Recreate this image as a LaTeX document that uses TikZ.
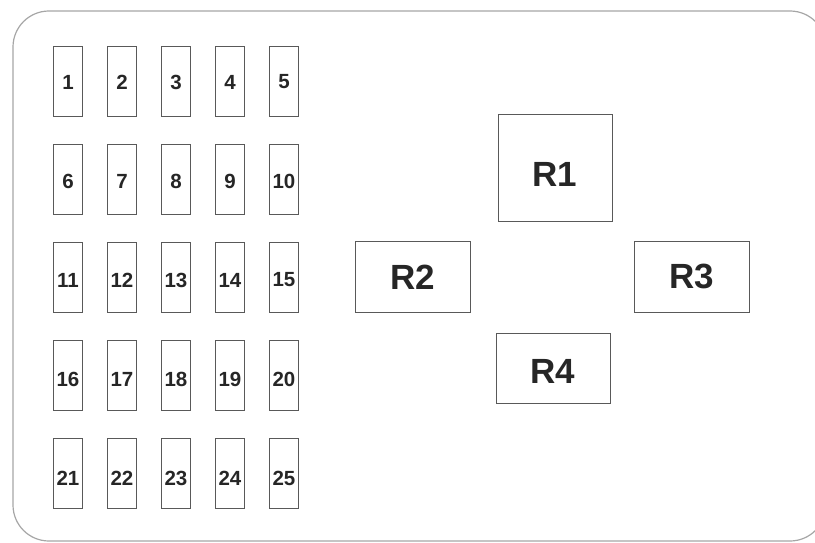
\documentclass[tikz,border=0pt]{standalone}
\usepackage{fontspec}
\setmainfont{Liberation Sans}
\begin{document}
\begin{tikzpicture}[x=1pt,y=-1pt,
  fuse/.style={draw=black!65,line width=0.9pt,minimum width=29pt,minimum height=70pt,inner sep=0pt},
  fusenum/.style={inner sep=0pt,text=black!85,font=\fontsize{20.5}{20.5}\selectfont\bfseries},
  relay/.style={draw=black!65,line width=1pt,inner sep=0pt},
  relaynum/.style={inner sep=0pt,text=black!85,font=\fontsize{35}{35}\selectfont\bfseries}]
\useasboundingbox (0,0) rectangle (815,543);
\clip (0,0) rectangle (815,543);
% housing
\draw[gray!70,line width=1.2pt,rounded corners=36pt] (13,11) rectangle (826,541);
% fuses
\foreach \r in {0,...,4}
  \foreach \c in {1,...,5}{
    \pgfmathtruncatemacro\n{5*\r+\c}
    \node[fuse] (f\n) at (14+54*\c,81+98*\r) {};
    \node[fusenum] (n\n) at ([yshift=-1-\r]f\n.center) {\n};
  }
% relays
\node[relay,minimum width=114pt,minimum height=107pt] (R1) at (555,168) {};
\node[relay,minimum width=115pt,minimum height=71pt] (R2) at (412.5,276.5) {};
\node[relay,minimum width=115pt,minimum height=71pt] (R3) at (691.5,276.5) {};
\node[relay,minimum width=114pt,minimum height=70pt] (R4) at (553,368) {};
\node[relaynum] at ([yshift=-6]R1.center) {R1};
\node[relaynum] at ([yshift=-1]R2.center) {R2};
\node[relaynum] at (R3.center) {R3};
\node[relaynum] at ([yshift=-3]R4.center) {R4};
\end{tikzpicture}
\end{document}
